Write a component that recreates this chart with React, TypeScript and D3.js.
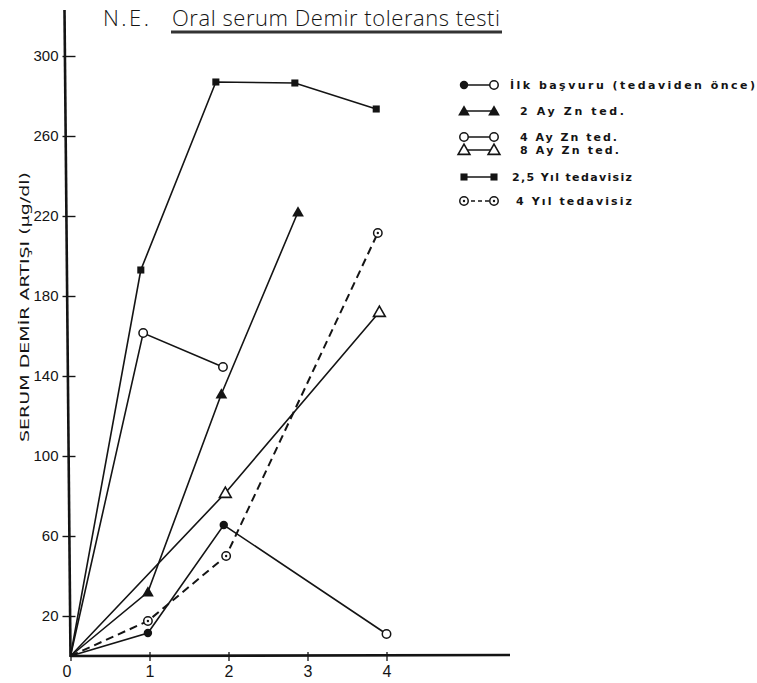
import React, { useRef, useEffect } from 'react';
import * as d3 from 'd3';

const titleLead = 'N.E.';
const titleMain = 'Oral  serum  Demir  tolerans  testi';
const yAxisTitle = 'SERUM DEMİR ARTIŞI (µg/dl)';

const xTicks = [0, 1, 2, 3, 4];
const yTicks = [20, 60, 100, 140, 180, 220, 260, 300];

// [hour, increase] (hand plotted, so hours drift a little)
const ilkBasvuru = [[0, 0], [0.98, 11.5], [1.94, 65.5], [4.0, 11]];
const ay2Zn = [[0, 0], [0.98, 32], [1.91, 131], [2.88, 222]];
const ay4Zn = [[0, 0], [0.92, 161.5], [1.93, 144.5]];
const ay8Zn = [[0, 0], [1.96, 81.5], [3.91, 172]];
const yil25 = [[0, 0], [0.89, 193], [1.84, 287], [2.84, 286.5], [3.87, 273.5]];
const yil4 = [[0, 0], [0.98, 17.5], [1.97, 50], [3.89, 211.5]];

const seriesNames = [
  'İlk  başvuru  (tedaviden  önce)',
  '2  Ay  Zn  ted.',
  '4  Ay  Zn  ted.',
  '8  Ay  Zn  ted.',
  '2,5  Yıl  tedavisiz',
  '4  Yıl  tedavisiz',
];

const App = () => {
  const ref = useRef(null);

  useEffect(() => {
    const svg = d3.select(ref.current);
    svg.selectAll('*').remove();

    const ink = '#141414';
    const x = d3.scaleLinear().domain([0, 4]).range([70.5, 386.5]);
    const y = d3.scaleLinear().domain([0, 300]).range([656, 56]);

    svg.append('rect').attr('width', 757).attr('height', 683).attr('fill', '#fff');

    // title
    const title = svg.append('text')
      .attr('y', 26)
      .attr('font-family', 'Open Sans')
      .attr('font-weight', 300)
      .attr('font-size', 22)
      .attr('fill', ink);
    title.append('tspan').attr('x', 103).attr('textLength', 46)
      .attr('lengthAdjust', 'spacing').text(titleLead);
    title.append('tspan').attr('x', 172).attr('textLength', 328)
      .attr('lengthAdjust', 'spacing').text(titleMain);
    svg.append('line')
      .attr('x1', 171).attr('x2', 502).attr('y1', 32).attr('y2', 32)
      .attr('stroke', '#333').attr('stroke-width', 2.8);

    // axes
    const axisY = svg.append('g').attr('transform', `translate(${x(0)},0)`)
      .call(d3.axisLeft(y).tickValues(yTicks).tickSize(0).tickPadding(12));
    axisY.select('.domain').remove();
    axisY.selectAll('.tick text')
      .attr('font-family', 'Liberation Sans Narrow, Liberation Sans')
      .attr('font-size', 15).attr('fill', ink);
    axisY.selectAll('.tick line')
      .attr('x1', -8).attr('x2', 5).attr('stroke', ink).attr('stroke-width', 1.4);
    svg.append('line')
      .attr('x1', x(0)).attr('x2', x(0) - 6).attr('y1', y(0) + 1).attr('y2', 10)
      .attr('stroke', ink).attr('stroke-width', 2.6);

    const axisX = svg.append('g').attr('transform', `translate(0,${y(0)})`)
      .call(d3.axisBottom(x).tickValues(xTicks).tickFormat(d3.format('d')).tickSize(0).tickPadding(10));
    axisX.select('.domain').remove();
    axisX.selectAll('.tick text')
      .attr('font-family', 'Liberation Sans Narrow, Liberation Sans')
      .attr('font-size', 16).attr('fill', ink);
    axisX.selectAll('.tick text').filter(d => d === 0).attr('x', -4);
    axisX.selectAll('.tick line')
      .attr('y1', -4).attr('y2', 5).attr('stroke', ink).attr('stroke-width', 1.3);
    svg.append('line')
      .attr('x1', x(0)).attr('x2', 510).attr('y1', y(0)).attr('y2', y(0) - 1)
      .attr('stroke', ink).attr('stroke-width', 2.6);

    svg.append('text')
      .attr('transform', 'translate(24,307) rotate(-90)')
      .attr('text-anchor', 'middle')
      .attr('dy', '0.35em')
      .attr('font-family', 'DejaVu Sans')
      .attr('font-size', 13)
      .attr('fill', ink)
      .attr('textLength', 270)
      .attr('lengthAdjust', 'spacingAndGlyphs')
      .text(yAxisTitle);

    // markers
    const circle = d3.symbol().type(d3.symbolCircle).size(56)();
    const tri = d3.symbol().type(d3.symbolTriangle).size(60)();
    const sq = d3.symbol().type(d3.symbolSquare).size(50)();
    const drawMarker = (g, kind, cx, cy) => {
      const m = g.append('g').attr('transform', `translate(${cx},${cy})`);
      if (kind === 'dot') m.append('path').attr('d', circle).attr('fill', ink);
      if (kind === 'ring' || kind === 'ringDot')
        m.append('path').attr('d', circle).attr('fill', '#fff').attr('stroke', ink).attr('stroke-width', 1.5);
      if (kind === 'ringDot') m.append('circle').attr('r', 1.2).attr('fill', ink);
      if (kind === 'tri') m.append('path').attr('d', tri).attr('transform', 'translate(0,1)').attr('fill', ink);
      if (kind === 'openTri')
        m.append('path').attr('d', tri).attr('transform', 'translate(0,1)')
          .attr('fill', '#fff').attr('stroke', ink).attr('stroke-width', 1.6);
      if (kind === 'sq') m.append('path').attr('d', sq).attr('fill', ink);
    };

    const series = [
      { data: ilkBasvuru, kind: 'dot', last: 'ring', dash: null },
      { data: ay2Zn, kind: 'tri', dash: null },
      { data: ay4Zn, kind: 'ring', dash: null },
      { data: ay8Zn, kind: 'openTri', dash: null },
      { data: yil25, kind: 'sq', dash: null },
      { data: yil4, kind: 'ringDot', dash: '8,5' },
    ];

    const line = d3.line().x(d => x(d[0])).y(d => y(d[1]));
    const plot = svg.append('g');
    series.forEach(s => {
      plot.append('path')
        .datum(s.data)
        .attr('fill', 'none')
        .attr('stroke', ink)
        .attr('stroke-width', s.dash ? 2 : 1.6)
        .attr('stroke-dasharray', s.dash)
        .attr('d', line);
    });
    series.forEach(s => {
      s.data.slice(1).forEach((d, i) => {
        const kind = s.last && i === s.data.length - 2 ? s.last : s.kind;
        drawMarker(plot, kind, x(d[0]), y(d[1]));
      });
    });

    // legend
    const rows = [85, 111, 137, 150, 177, 201];
    const textX = [510, 520, 520, 520, 512, 516];
    const textLen = [245, 104, 97, 99, 120, 116];
    const legend = svg.append('g');
    series.forEach((s, i) => {
      const ly = rows[i];
      legend.append('line')
        .attr('x1', 464).attr('x2', 494).attr('y1', ly).attr('y2', ly)
        .attr('stroke', ink).attr('stroke-width', 1.5)
        .attr('stroke-dasharray', s.dash ? '4,3' : null);
      drawMarker(legend, s.kind, 464, ly);
      drawMarker(legend, s.last || s.kind, 494, ly);
      legend.append('text')
        .attr('x', textX[i]).attr('y', ly + 4)
        .attr('font-family', 'DejaVu Sans')
        .attr('font-weight', 'bold')
        .attr('font-size', 11)
        .attr('fill', ink)
        .attr('textLength', textLen[i])
        .attr('lengthAdjust', 'spacing')
        .text(seriesNames[i]);
    });
  }, []);

  return (
    <svg
      ref={ref}
      width={757}
      height={683}
      style={{ position: 'absolute', left: 0, top: 0 }}
    />
  );
};

export default App;
